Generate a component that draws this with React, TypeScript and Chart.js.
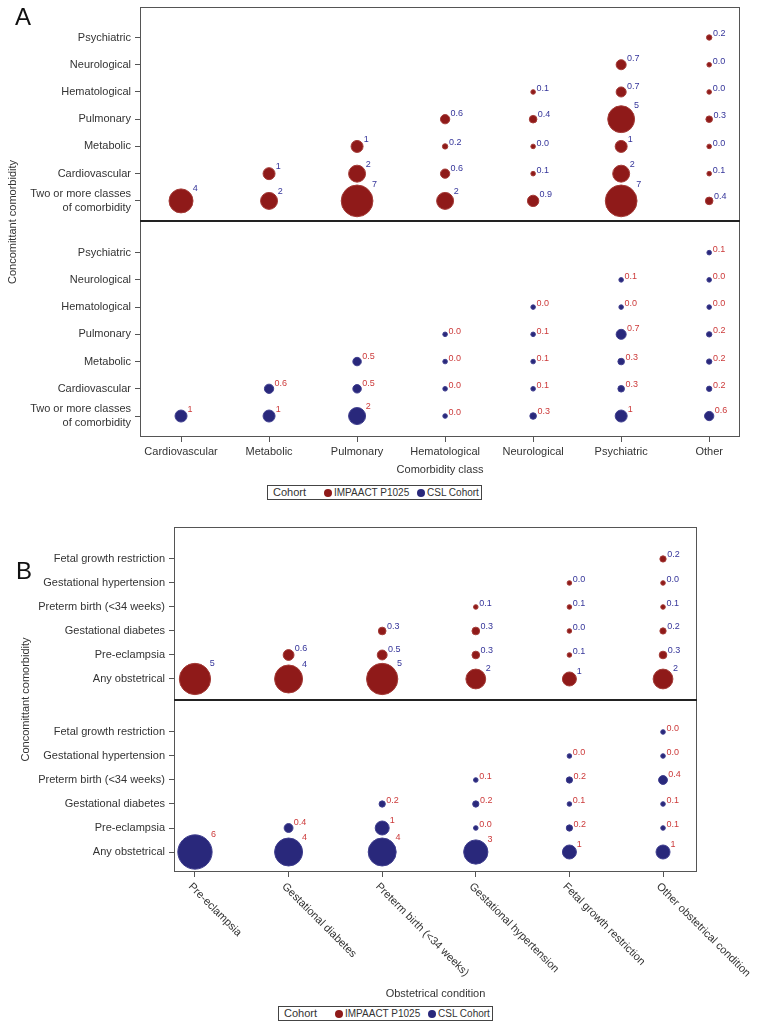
import React, { useEffect, useRef } from "react";
import { Chart, registerables } from "chart.js";

Chart.register(...registerables);

const FONT = "'Liberation Sans', Arial, Helvetica, sans-serif";

// ---------------- Panel A data ----------------
const comorbidityClasses = ["Cardiovascular", "Metabolic", "Pulmonary", "Hematological", "Neurological", "Psychiatric", "Other"];
// rows from bottom to top
const concomitantRowsA: (string | string[])[] = [
  ["Two or more classes", "of comorbidity"],
  "Cardiovascular",
  "Metabolic",
  "Pulmonary",
  "Hematological",
  "Neurological",
  "Psychiatric",
];
// values[class][row] (row order: two+, cardio, metab, pulm, hemat, neuro, psych)
const impaactA: (number | null)[][] = [
  [4, null, null, null, null, null, null],
  [2, 1, null, null, null, null, null],
  [7, 2, 1, null, null, null, null],
  [2, 0.6, 0.2, 0.6, null, null, null],
  [0.9, 0.1, 0.0, 0.4, 0.1, null, null],
  [7, 2, 1, 5, 0.7, 0.7, null],
  [0.4, 0.1, 0.0, 0.3, 0.0, 0.0, 0.2],
];
const cslA: (number | null)[][] = [
  [1, null, null, null, null, null, null],
  [1, 0.6, null, null, null, null, null],
  [2, 0.5, 0.5, null, null, null, null],
  [0.0, 0.0, 0.0, 0.0, null, null, null],
  [0.3, 0.1, 0.1, 0.1, 0.0, null, null],
  [1, 0.3, 0.3, 0.7, 0.0, 0.1, null],
  [0.6, 0.2, 0.2, 0.2, 0.0, 0.0, 0.1],
];

// ---------------- Panel B data ----------------
const obstetricalConditions = [
  "Pre-eclampsia",
  "Gestational diabetes",
  "Preterm birth (<34 weeks)",
  "Gestational hypertension",
  "Fetal growth restriction",
  "Other obstetrical condition",
];
const concomitantRowsB: string[] = [
  "Any obstetrical",
  "Pre-eclampsia",
  "Gestational diabetes",
  "Preterm birth (<34 weeks)",
  "Gestational hypertension",
  "Fetal growth restriction",
];
const impaactB: (number | null)[][] = [
  [5, null, null, null, null, null],
  [4, 0.6, null, null, null, null],
  [5, 0.5, 0.3, null, null, null],
  [2, 0.3, 0.3, 0.1, null, null],
  [1, 0.1, 0.0, 0.1, 0.0, null],
  [2, 0.3, 0.2, 0.1, 0.0, 0.2],
];
const cslB: (number | null)[][] = [
  [6, null, null, null, null, null],
  [4, 0.4, null, null, null, null],
  [4, 1, 0.2, null, null, null],
  [3, 0.0, 0.2, 0.1, null, null],
  [1, 0.2, 0.1, 0.2, 0.0, null],
  [1, 0.1, 0.1, 0.4, 0.0, 0.0],
];

const cohortNames = ["IMPAACT P1025", "CSL Cohort"];

const RED = "#8f1a19";
const RED_EDGE = "#a33a36";
const NAVY = "#29287b";
const NAVY_EDGE = "#3f3e8e";
const LABEL_NAVY = "#35359a";
const LABEL_RED = "#cc3a3a";
const TEXT = "#333333";

type Pt = { x: number; y: number; r: number; v: number };

function toPoints(matrix: (number | null)[][], rowOffset: number, k: number, minR: number): Pt[] {
  const pts: Pt[] = [];
  matrix.forEach((col, xi) =>
    col.forEach((v, yi) => {
      if (v !== null) pts.push({ x: xi, y: yi + rowOffset, r: Math.max(minR, k * Math.sqrt(v)), v });
    })
  );
  return pts;
}

function fmt(v: number) {
  return v >= 1 ? v.toFixed(0) : v.toFixed(1);
}

const bubbleLabelPlugin = {
  id: "bubbleLabels",
  afterDatasetsDraw(chart: any) {
    const ctx = chart.ctx;
    ctx.save();
    ctx.font = `9px ${FONT}`;
    ctx.textAlign = "left";
    ctx.textBaseline = "middle";
    chart.data.datasets.forEach((ds: any, di: number) => {
      const meta = chart.getDatasetMeta(di);
      ctx.fillStyle = ds.labelColor;
      meta.data.forEach((el: any, i: number) => {
        const p = ds.data[i] as Pt;
        const r = p.r;
        ctx.fillText(fmt(p.v), el.x + 0.85 * r + 1.5, el.y - 0.95 * r - 1);
      });
    });
    ctx.restore();
  },
};

const framePlugin = {
  id: "frame",
  afterDatasetsDraw(chart: any, _a: any, opts: any) {
    const { ctx, chartArea } = chart;
    const ys = chart.scales.y;
    ctx.save();
    ctx.strokeStyle = "#555555";
    ctx.lineWidth = 1;
    ctx.strokeRect(chartArea.left + 0.5, chartArea.top + 0.5, chartArea.right - chartArea.left - 1, chartArea.bottom - chartArea.top - 1);
    const yd = Math.round(ys.getPixelForValue(opts.divider));
    ctx.strokeStyle = "#222222";
    ctx.lineWidth = 2;
    ctx.beginPath();
    ctx.moveTo(chartArea.left, yd);
    ctx.lineTo(chartArea.right, yd);
    ctx.stroke();
    ctx.restore();
  },
};

const rotatedXLabelsPlugin = {
  id: "rotatedX",
  afterDraw(chart: any, _a: any, opts: any) {
    if (!opts || !opts.labels) return;
    const { ctx, chartArea } = chart;
    const xs = chart.scales.x;
    ctx.save();
    ctx.font = `11px ${FONT}`;
    ctx.fillStyle = TEXT;
    ctx.textAlign = "left";
    ctx.textBaseline = "top";
    opts.labels.forEach((lab: string, i: number) => {
      const px = xs.getPixelForValue(i);
      ctx.save();
      ctx.translate(px - 1, chartArea.bottom + 9);
      ctx.rotate(Math.PI / 4);
      ctx.fillText(lab, 0, 0);
      ctx.restore();
    });
    ctx.restore();
  },
};

type PanelSpec = {
  xLabels: string[];
  rowLabels: (string | string[])[];
  top: (number | null)[][];
  bottom: (number | null)[][];
  topOffset: number;
  divider: number;
  yMin: number;
  yMax: number;
  xMin: number;
  xMax: number;
  k: number;
  yAxisWidth: number;
  xAxisHeight: number;
  padding: { left: number; right: number; top: number; bottom: number };
  xTitle: string;
  yTitlePad: number;
  rotated: boolean;
};

function makeConfig(s: PanelSpec): any {
  const rowsN = s.rowLabels.length;
  const tickVals: number[] = [];
  const tickLabels: (string | string[])[] = [];
  for (let i = 0; i < rowsN; i++) {
    tickVals.push(i);
    tickLabels.push(s.rowLabels[i]);
  }
  for (let i = 0; i < rowsN; i++) {
    tickVals.push(i + s.topOffset);
    tickLabels.push(s.rowLabels[i]);
  }
  const xVals = s.xLabels.map((_, i) => i);
  return {
    type: "bubble",
    data: {
      datasets: [
        {
          label: cohortNames[0],
          data: toPoints(s.top, s.topOffset, s.k, 2.3),
          backgroundColor: RED,
          borderColor: RED_EDGE,
          borderWidth: 1,
          labelColor: LABEL_NAVY,
        },
        {
          label: cohortNames[1],
          data: toPoints(s.bottom, 0, s.k, 2.3),
          backgroundColor: NAVY,
          borderColor: NAVY_EDGE,
          borderWidth: 1,
          labelColor: LABEL_RED,
        },
      ],
    },
    options: {
      responsive: false,
      animation: false,
      devicePixelRatio: 1,
      events: [],
      layout: { padding: s.padding },
      plugins: {
        legend: { display: false },
        tooltip: { enabled: false },
        frame: { divider: s.divider },
        rotatedX: s.rotated ? { labels: s.xLabels } : {},
      },
      scales: {
        x: {
          type: "linear",
          min: s.xMin,
          max: s.xMax,
          afterBuildTicks: (scale: any) => {
            scale.ticks = xVals.map((v) => ({ value: v }));
          },
          afterFit: (scale: any) => {
            scale.height = s.xAxisHeight;
          },
          border: { display: false },
          grid: { display: true, drawOnChartArea: false, drawTicks: true, tickLength: 5, color: "#555555" },
          ticks: {
            display: !s.rotated,
            autoSkip: false,
            maxRotation: 0,
            minRotation: 0,
            padding: 3,
            color: TEXT,
            font: { family: FONT, size: 11 },
            callback: (_v: any, i: number) => s.xLabels[i],
          },
          title: {
            display: true,
            text: s.xTitle,
            color: TEXT,
            font: { family: FONT, size: 11 },
            padding: { top: 0, bottom: 0 },
          },
        },
        y: {
          type: "linear",
          min: s.yMin,
          max: s.yMax,
          afterBuildTicks: (scale: any) => {
            scale.ticks = tickVals.map((v) => ({ value: v }));
          },
          afterFit: (scale: any) => {
            scale.width = s.yAxisWidth;
          },
          border: { display: false },
          grid: { display: true, drawOnChartArea: false, drawTicks: true, tickLength: 5, color: "#555555" },
          ticks: {
            autoSkip: false,
            padding: 4,
            color: TEXT,
            font: { family: FONT, size: 11 },
            callback: (_v: any, i: number) => tickLabels[i],
          },
          title: {
            display: true,
            text: "Concomittant comorbidity",
            color: TEXT,
            font: { family: FONT, size: 11 },
            padding: { top: s.yTitlePad, bottom: 0 },
          },
        },
      },
    },
    plugins: [framePlugin, bubbleLabelPlugin, rotatedXLabelsPlugin],
  };
}

function ChartCanvas({ spec, top, height }: { spec: PanelSpec; top: number; height: number }) {
  const ref = useRef<HTMLCanvasElement | null>(null);
  useEffect(() => {
    if (!ref.current) return;
    const chart = new Chart(ref.current, makeConfig(spec));
    return () => chart.destroy();
  }, []);
  return (
    <canvas
      ref={ref}
      width={758}
      height={height}
      style={{ position: "absolute", left: 0, top, width: 758, height }}
    />
  );
}

function Legend({ left, top }: { left: number; top: number }) {
  const dot = (c: string, cx: number) => (
    <span
      style={{
        position: "absolute",
        left: cx - 4,
        top: 2.5,
        width: 8,
        height: 8,
        borderRadius: "50%",
        background: c,
      }}
    />
  );
  const txt = (t: string, x: number, size: number) => (
    <span style={{ position: "absolute", left: x, top: 0, lineHeight: "13px", fontSize: size, whiteSpace: "nowrap" }}>{t}</span>
  );
  return (
    <div
      style={{
        position: "absolute",
        left,
        top,
        width: 215,
        height: 15,
        border: "1px solid #444",
        boxSizing: "border-box",
        fontFamily: FONT,
        color: TEXT,
        background: "#fff",
      }}
    >
      {txt("Cohort", 5, 11)}
      {dot(RED, 60)}
      {txt(cohortNames[0], 66, 10)}
      {dot(NAVY, 153)}
      {txt(cohortNames[1], 159, 10)}
    </div>
  );
}

const specA: PanelSpec = {
  xLabels: comorbidityClasses,
  rowLabels: concomitantRowsA,
  top: impaactA,
  bottom: cslA,
  topOffset: 7.9,
  divider: 7.17,
  yMin: -0.77,
  yMax: 15.02,
  xMin: -0.466,
  xMax: 6.35,
  k: 6,
  yAxisWidth: 140,
  xAxisHeight: 40,
  padding: { left: 0, right: 18, top: 27, bottom: 3 },
  xTitle: "Comorbidity class",
  yTitlePad: 6,
  rotated: false,
};

const specB: PanelSpec = {
  xLabels: obstetricalConditions,
  rowLabels: concomitantRowsB,
  top: impaactB,
  bottom: cslB,
  topOffset: 7.208,
  divider: 6.333,
  yMin: -0.833,
  yMax: 13.54,
  xMin: -0.224,
  xMax: 5.363,
  k: 7,
  yAxisWidth: 174,
  xAxisHeight: 129,
  padding: { left: 0, right: 61, top: 22, bottom: 30 },
  xTitle: "Obstetrical condition",
  yTitlePad: 19,
  rotated: true,
};

export default function App() {
  return (
    <div style={{ position: "absolute", left: 0, top: 0, width: 758, height: 1031, background: "#fff", overflow: "hidden" }}>
      <ChartCanvas spec={specA} top={-20} height={500} />
      <ChartCanvas spec={specB} top={505} height={526} />
      <Legend left={267} top={485} />
      <Legend left={278} top={1006} />
      <div style={{ position: "absolute", left: 15, top: 5, fontFamily: FONT, fontSize: 24, lineHeight: "24px", color: "#111" }}>A</div>
      <div style={{ position: "absolute", left: 16, top: 559, fontFamily: FONT, fontSize: 24, lineHeight: "24px", color: "#111" }}>B</div>
    </div>
  );
}
